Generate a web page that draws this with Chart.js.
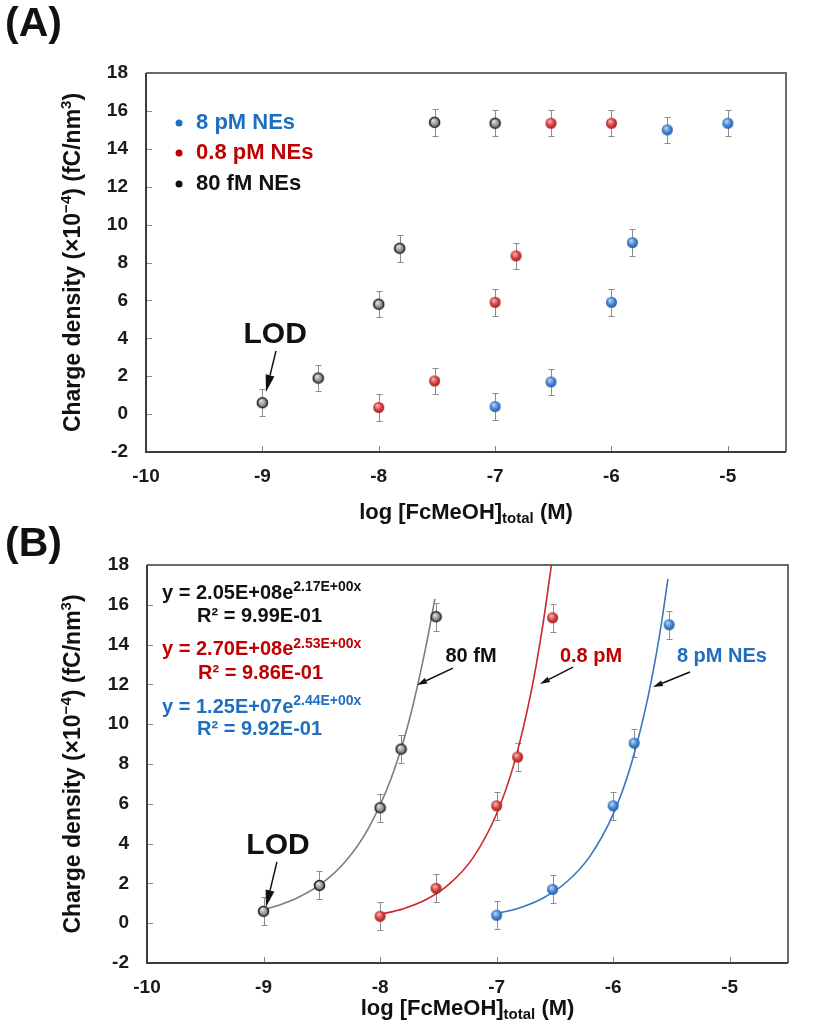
<!DOCTYPE html>
<html>
<head>
<meta charset="utf-8">
<script src="https://cdn.jsdelivr.net/npm/chart.js@4.4.1/dist/chart.umd.min.js"></script>
<style>
  html, body { margin: 0; padding: 0; background: #fff; }
  .page { position: relative; width: 817px; height: 1032px; }
  canvas { display: block; position: absolute; left: 0; }
  #chartA { top: 0; }
  #chartB { top: 520px; }
</style>
</head>
<body>
<div class="page">
<canvas id="chartB" width="817" height="512"></canvas>
<canvas id="chartA" width="817" height="540"></canvas>
</div>
<script>
// axis ticks
const xTicks = [-10, -9, -8, -7, -6, -5];
const yTicks = [-2, 0, 2, 4, 6, 8, 10, 12, 14, 16, 18];

// measured points, log[FcMeOH] vs charge density
const logConcFM80 = [-9, -8.52, -8, -7.82, -7.52, -7];
const chargeFM80 = [0.6, 1.9, 5.8, 8.75, 15.4, 15.35];
const errFM80 = [0.7, 0.7, 0.7, 0.7, 0.7, 0.7];

const logConcPM08 = [-8, -7.52, -7, -6.82, -6.52, -6];
const chargePM08 = [0.35, 1.75, 5.9, 8.35, 15.35, 15.35];
const errPM08 = [0.7, 0.7, 0.7, 0.7, 0.7, 0.7];

const logConcPM8 = [-7, -6.52, -6, -5.82, -5.52, -5];
const chargePM8 = [0.4, 1.7, 5.9, 9.05, 15.0, 15.35];
const errPM8 = [0.7, 0.7, 0.7, 0.7, 0.7, 0.7];

// exponential trend lines
const fitXFM80 = [-9, -8.85, -8.7, -8.5, -8.3, -8.1, -7.9, -7.75, -7.6, -7.53];
const fitYFM80 = [0.68, 0.94, 1.3, 2.0, 3.09, 4.77, 7.36, 10.2, 14.1, 16.3];
const fitXPM08 = [-8, -7.8, -7.6, -7.4, -7.2, -7, -6.85, -6.7, -6.6, -6.53];
const fitYPM08 = [0.44, 0.73, 1.2, 2.0, 3.31, 5.5, 8.03, 11.74, 15.12, 18.0];
const fitXPM8 = [-7, -6.8, -6.6, -6.4, -6.2, -6, -5.85, -5.7, -5.6, -5.53];
const fitYPM8 = [0.48, 0.78, 1.27, 2.07, 3.36, 5.48, 7.9, 11.4, 14.55, 17.3];

const FONT = "'Liberation Sans', Arial, Helvetica, sans-serif";
const BLUE = '#1f6fc0';
const RED = '#c00000';
const INK = '#111111';

const toPoints = (xs, ys) => xs.map((x, i) => ({ x, y: ys[i] }));

/**
 * Small shaded ball used as a marker.
 */
function makeBall(light, mid, dark, edge) {
    const c = document.createElement('canvas');
    c.width = 13;
    c.height = 13;
    const g = c.getContext('2d');
    const grad = g.createRadialGradient(5, 4.5, 0.5, 6.5, 6.5, 6.5);
    grad.addColorStop(0, light);
    grad.addColorStop(0.55, mid);
    grad.addColorStop(1, dark);
    g.beginPath();
    g.arc(6.5, 6.5, edge ? 5 : 5.5, 0, Math.PI * 2);
    g.fillStyle = grad;
    g.fill();
    if (edge) {
        g.lineWidth = 1.6;
        g.strokeStyle = edge;
        g.stroke();
    }
    return c;
}

const ballBlue = makeBall('#b5d2f4', '#3f80d0', '#1c4c92');
const ballRed = makeBall('#f5b0b0', '#d23a3a', '#8c1414');
const ballGray = makeBall('#e0e0e0', '#8f8f8f', '#555555', '#262626');

// draw a run of text pieces (for super/subscripts)
function drawRich(ctx, segs, x, y, align, color) {
    let total = 0;
    segs.forEach(s => {
        ctx.font = `bold ${s.size}px ${FONT}`;
        s.w = ctx.measureText(s.t).width;
        total += s.w;
    });
    let cx = align === 'center' ? x - total / 2 : x;
    ctx.fillStyle = color;
    ctx.textBaseline = 'middle';
    ctx.textAlign = 'left';
    segs.forEach(s => {
        ctx.font = `bold ${s.size}px ${FONT}`;
        ctx.fillText(s.t, cx, y + (s.dy || 0));
        cx += s.w;
    });
}

function drawArrow(ctx, x1, y1, x2, y2, len, half) {
    const a = Math.atan2(y2 - y1, x2 - x1);
    const bx = x2 - len * Math.cos(a);
    const by = y2 - len * Math.sin(a);
    ctx.beginPath();
    ctx.moveTo(x1, y1);
    ctx.lineTo(bx, by);
    ctx.stroke();
    ctx.beginPath();
    ctx.moveTo(x2, y2);
    ctx.lineTo(bx + half * Math.sin(a), by - half * Math.cos(a));
    ctx.lineTo(bx - half * Math.sin(a), by + half * Math.cos(a));
    ctx.closePath();
    ctx.fill();
}

// frame box + inward tick marks
const framePlugin = {
    id: 'frame',
    beforeDatasetsDraw(chart) {
        const { ctx, chartArea: a, scales: { x, y } } = chart;
        ctx.save();
        ctx.strokeStyle = '#8a8a8a';
        ctx.lineWidth = 1;
        xTicks.forEach(v => {
            const px = Math.round(x.getPixelForValue(v)) + 0.5;
            ctx.beginPath();
            ctx.moveTo(px, a.bottom);
            ctx.lineTo(px, a.bottom - 6);
            ctx.stroke();
        });
        yTicks.forEach(v => {
            const py = Math.round(y.getPixelForValue(v)) + 0.5;
            ctx.beginPath();
            ctx.moveTo(a.left, py);
            ctx.lineTo(a.left + 6, py);
            ctx.stroke();
        });
        ctx.lineWidth = 2;
        ctx.strokeStyle = '#6a6a6a';
        ctx.beginPath();
        ctx.moveTo(a.left, a.top);
        ctx.lineTo(a.right, a.top);
        ctx.lineTo(a.right, a.bottom);
        ctx.stroke();
        ctx.strokeStyle = '#3c3c3c';
        ctx.beginPath();
        ctx.moveTo(a.left, a.top);
        ctx.lineTo(a.left, a.bottom);
        ctx.lineTo(a.right, a.bottom);
        ctx.stroke();
        ctx.restore();
    }
};

// vertical error bars from dataset.errors
const errorBarPlugin = {
    id: 'errorBars',
    beforeDatasetsDraw(chart) {
        const { ctx, scales: { x, y } } = chart;
        ctx.save();
        ctx.strokeStyle = '#8c8c8c';
        ctx.lineWidth = 1;
        chart.data.datasets.forEach(ds => {
            if (!ds.errors) return;
            ds.data.forEach((p, j) => {
                const px = Math.round(x.getPixelForValue(p.x)) + 0.5;
                const top = Math.round(y.getPixelForValue(p.y + ds.errors[j])) + 0.5;
                const bot = Math.round(y.getPixelForValue(p.y - ds.errors[j])) + 0.5;
                ctx.beginPath();
                ctx.moveTo(px, top);
                ctx.lineTo(px, bot);
                ctx.moveTo(px - 3, top);
                ctx.lineTo(px + 3, top);
                ctx.moveTo(px - 3, bot);
                ctx.lineTo(px + 3, bot);
                ctx.stroke();
            });
        });
        ctx.restore();
    }
};

// labels, arrows, legend, axis titles and panel letter
const notesPlugin = {
    id: 'notes',
    afterDatasetsDraw(chart, args, opts) {
        const { ctx, chartArea: a, scales: { x, y } } = chart;
        ctx.save();

        (opts.texts || []).forEach(t => {
            drawRich(ctx, t.segs, x.getPixelForValue(t.x), y.getPixelForValue(t.y), t.align, t.color);
        });

        ctx.strokeStyle = INK;
        ctx.fillStyle = INK;
        ctx.lineWidth = 1.5;
        (opts.arrows || []).forEach(r => {
            drawArrow(ctx, x.getPixelForValue(r.x1), y.getPixelForValue(r.y1),
                x.getPixelForValue(r.x2), y.getPixelForValue(r.y2), r.len, r.half);
        });

        (opts.legend || []).forEach(l => {
            ctx.fillStyle = l.color;
            ctx.beginPath();
            ctx.arc(x.getPixelForValue(l.dotX), y.getPixelForValue(l.y), 3.5, 0, Math.PI * 2);
            ctx.fill();
            drawRich(ctx, [{ t: l.text, size: 22 }], x.getPixelForValue(l.x), y.getPixelForValue(l.y), 'left', l.color);
        });

        // x title with subscript
        drawRich(ctx, [
            { t: 'log [FcMeOH]', size: 22 },
            { t: 'total', size: 15, dy: 6 },
            { t: ' (M)', size: 22 }
        ], (a.left + a.right) / 2, a.bottom + opts.xTitleGap, 'center', INK);

        // rotated y title
        ctx.save();
        ctx.translate(74, (a.top + a.bottom) / 2);
        ctx.rotate(-Math.PI / 2);
        drawRich(ctx, [
            { t: 'Charge density (\u00d710', size: 23 },
            { t: '\u22124', size: 15, dy: -7 },
            { t: ') (fC/nm', size: 23 },
            { t: '3', size: 15, dy: -7 },
            { t: ')', size: 23 }
        ], 0, 0, 'center', INK);
        ctx.restore();

        drawRich(ctx, [{ t: opts.panel, size: 41 }], 5, 25, 'left', INK);
        ctx.restore();
    }
};

function scaleOptions(yWidth, xHeight) {
    const tickFont = { family: FONT, size: 19, weight: 'bold' };
    return {
        x: {
            type: 'linear',
            min: -10,
            max: -4.5,
            grid: { display: false, drawTicks: false },
            border: { display: false },
            afterBuildTicks: s => { s.ticks = xTicks.map(v => ({ value: v })); },
            afterFit: s => { s.height = xHeight; },
            ticks: { color: '#1a1a1a', font: tickFont, padding: 13, maxRotation: 0, autoSkip: false }
        },
        y: {
            type: 'linear',
            min: -2,
            max: 18,
            grid: { display: false, drawTicks: false },
            border: { display: false },
            afterBuildTicks: s => { s.ticks = yTicks.map(v => ({ value: v })); },
            afterFit: s => { s.width = yWidth; },
            ticks: { color: '#1a1a1a', font: tickFont, padding: 18, autoSkip: false }
        }
    };
}

function pointSet(label, xs, ys, errs, ball) {
    return {
        label,
        data: toPoints(xs, ys),
        errors: errs,
        pointStyle: ball,
        pointRadius: 6,
        showLine: false
    };
}

function fitSet(label, xs, ys, color) {
    return {
        label,
        data: toPoints(xs, ys),
        showLine: true,
        borderColor: color,
        borderWidth: 1.6,
        pointRadius: 0,
        cubicInterpolationMode: 'monotone',
        fill: false
    };
}

// Panel A: the three series, no fits
new Chart(document.getElementById('chartA'), {
    type: 'scatter',
    data: {
        datasets: [
            pointSet('8 pM NEs', logConcPM8, chargePM8, errPM8, ballBlue),
            pointSet('0.8 pM NEs', logConcPM08, chargePM08, errPM08, ballRed),
            pointSet('80 fM NEs', logConcFM80, chargeFM80, errFM80, ballGray)
        ]
    },
    options: {
        responsive: false,
        animation: false,
        layout: { padding: { top: 73, right: 31, left: 0, bottom: 0 } },
        scales: scaleOptions(146, 88),
        plugins: {
            legend: { display: false },
            tooltip: { enabled: false },
            notes: {
                panel: '(A)',
                xTitleGap: 61,
                legend: [
                    { text: '8 pM NEs', color: BLUE, dotX: -9.716, x: -9.57, y: 15.36 },
                    { text: '0.8 pM NEs', color: RED, dotX: -9.716, x: -9.57, y: 13.78 },
                    { text: '80 fM NEs', color: INK, dotX: -9.716, x: -9.57, y: 12.14 }
                ],
                texts: [
                    { x: -8.89, y: 4.17, segs: [{ t: 'LOD', size: 30 }], align: 'center', color: INK }
                ],
                arrows: [
                    { x1: -8.883, y1: 3.33, x2: -8.969, y2: 1.17, len: 17, half: 4.5 }
                ]
            }
        }
    },
    plugins: [framePlugin, errorBarPlugin, notesPlugin]
});

// Panel B: first five points of each series with exponential fits
new Chart(document.getElementById('chartB'), {
    type: 'scatter',
    data: {
        datasets: [
            pointSet('8 pM NEs', logConcPM8.slice(0, 5), chargePM8.slice(0, 5), errPM8, ballBlue),
            pointSet('0.8 pM NEs', logConcPM08.slice(0, 5), chargePM08.slice(0, 5), errPM08, ballRed),
            pointSet('80 fM NEs', logConcFM80.slice(0, 5), chargeFM80.slice(0, 5), errFM80, ballGray),
            fitSet('8 pM fit', fitXPM8, fitYPM8, '#3a76c0'),
            fitSet('0.8 pM fit', fitXPM08, fitYPM08, '#c9282e'),
            fitSet('80 fM fit', fitXFM80, fitYFM80, '#7d7d7d')
        ]
    },
    options: {
        responsive: false,
        animation: false,
        layout: { padding: { top: 45, right: 29, left: 0, bottom: 0 } },
        scales: scaleOptions(147, 69),
        plugins: {
            legend: { display: false },
            tooltip: { enabled: false },
            notes: {
                panel: '(B)',
                xTitleGap: 46,
                texts: [
                    { x: -9.871, y: 16.59, align: 'left', color: INK,
                      segs: [{ t: 'y = 2.05E+08e', size: 20 }, { t: '2.17E+00x', size: 14, dy: -6 }] },
                    { x: -9.571, y: 15.39, align: 'left', color: INK, segs: [{ t: 'R\u00b2 = 9.99E-01', size: 20 }] },
                    { x: -9.871, y: 13.73, align: 'left', color: RED,
                      segs: [{ t: 'y = 2.70E+08e', size: 20 }, { t: '2.53E+00x', size: 14, dy: -6 }] },
                    { x: -9.562, y: 12.57, align: 'left', color: RED, segs: [{ t: 'R\u00b2 = 9.86E-01', size: 20 }] },
                    { x: -9.871, y: 10.86, align: 'left', color: BLUE,
                      segs: [{ t: 'y = 1.25E+07e', size: 20 }, { t: '2.44E+00x', size: 14, dy: -6 }] },
                    { x: -9.571, y: 9.71, align: 'left', color: BLUE, segs: [{ t: 'R\u00b2 = 9.92E-01', size: 20 }] },
                    { x: -8.876, y: 3.88, segs: [{ t: 'LOD', size: 30 }], align: 'center', color: INK },
                    { x: -7.22, y: 13.38, segs: [{ t: '80 fM', size: 20 }], align: 'center', color: INK },
                    { x: -6.19, y: 13.38, segs: [{ t: '0.8 pM', size: 20 }], align: 'center', color: RED },
                    { x: -5.067, y: 13.38, segs: [{ t: '8 pM NEs', size: 20 }], align: 'center', color: BLUE }
                ],
                arrows: [
                    { x1: -8.885, y1: 3.08, x2: -8.979, y2: 0.81, len: 17, half: 4.5 },
                    { x1: -7.375, y1: 12.82, x2: -7.683, y2: 11.97, len: 10, half: 3 },
                    { x1: -6.345, y1: 12.87, x2: -6.628, y2: 12.02, len: 10, half: 3 },
                    { x1: -5.341, y1: 12.62, x2: -5.659, y2: 11.87, len: 10, half: 3 }
                ]
            }
        }
    },
    plugins: [framePlugin, errorBarPlugin, notesPlugin]
});
</script>
</body>
</html>
